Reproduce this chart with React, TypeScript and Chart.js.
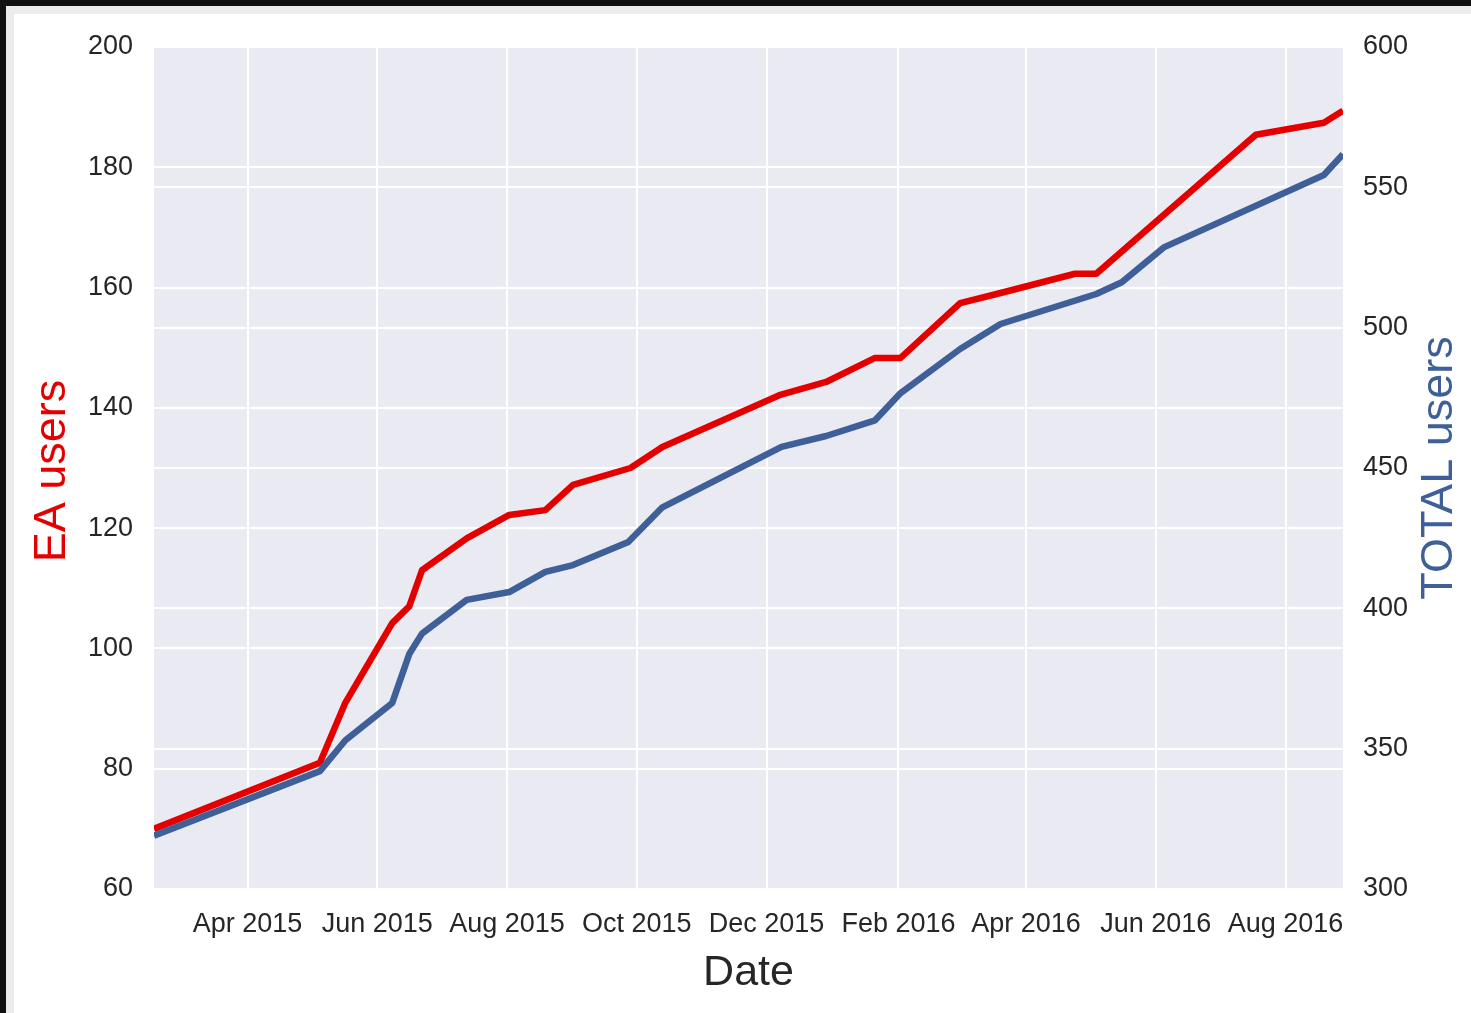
import React, { useEffect, useRef } from "react";
import { Chart, registerables } from "chart.js";

Chart.register(...registerables);

// ---- Data ----
const eaDates = [
  "2015-02-16", "2015-05-05", "2015-05-17", "2015-06-08", "2015-06-16", "2015-06-22",
  "2015-07-13", "2015-08-02", "2015-08-19", "2015-09-01", "2015-09-28", "2015-10-13",
  "2015-12-07", "2015-12-29", "2016-01-21", "2016-02-02", "2016-03-01", "2016-03-20",
  "2016-04-24", "2016-05-04", "2016-07-18", "2016-08-19", "2016-08-28",
];
const eaUsers = [
  70, 81, 91, 104.2, 107, 113,
  118.3, 122.2, 123, 127.2, 130, 133.5,
  142.1, 144.3, 148.3, 148.3, 157.4, 159.1,
  162.3, 162.3, 185.4, 187.4, 189.4,
];

const totalDates = [
  "2015-02-16", "2015-05-05", "2015-05-17", "2015-06-08", "2015-06-16", "2015-06-22",
  "2015-07-13", "2015-08-02", "2015-08-19", "2015-09-01", "2015-09-27", "2015-10-13",
  "2015-12-08", "2015-12-29", "2016-01-21", "2016-02-02", "2016-03-01", "2016-03-20",
  "2016-05-04", "2016-05-16", "2016-06-05", "2016-08-19", "2016-08-28",
];
const totalUsers = [
  319, 342, 353, 366.3, 383.7, 391,
  403, 405.8, 413, 415.4, 423.6, 436,
  457.5, 461.4, 467, 476.7, 492.4, 501.3,
  512, 516.2, 528.7, 554.4, 561.8,
];

const xRange = ["2015-02-16", "2016-08-28"];
const xTickDates = [
  "2015-04-01", "2015-06-01", "2015-08-01", "2015-10-01", "2015-12-01",
  "2016-02-01", "2016-04-01", "2016-06-01", "2016-08-01",
];
const xTickLabels = [
  "Apr 2015", "Jun 2015", "Aug 2015", "Oct 2015", "Dec 2015",
  "Feb 2016", "Apr 2016", "Jun 2016", "Aug 2016",
];
const leftRange = [60, 200];
const leftStep = 20;
const rightRange = [300, 600];
const rightStep = 50;

const EA_COLOR = "#e50000";
const TOTAL_COLOR = "#3e5f98";
const FONT = "'Liberation Sans', Arial, Helvetica, sans-serif";

const dayNum = (s: string) => {
  const [y, m, d] = s.split("-").map(Number);
  return Date.UTC(y, m - 1, d) / 86400000;
};

const titlesPlugin = {
  id: "customTitles",
  beforeDraw(chart: any) {
    const { ctx, chartArea } = chart;
    ctx.save();
    ctx.fillStyle = "#eaeaf2";
    ctx.fillRect(chartArea.left, chartArea.top, chartArea.right - chartArea.left, chartArea.bottom - chartArea.top);
    ctx.restore();
  },
  afterDraw(chart: any) {
    const { ctx, chartArea } = chart;
    ctx.save();
    ctx.textBaseline = "alphabetic";
    ctx.textAlign = "center";
    // Left title
    ctx.save();
    ctx.translate(51, 457);
    ctx.rotate(-Math.PI / 2);
    ctx.fillStyle = EA_COLOR;
    ctx.font = `45px ${FONT}`;
    ctx.fillText("EA users", 0, 0);
    ctx.restore();
    // Right title
    ctx.save();
    ctx.translate(1438, 454);
    ctx.rotate(-Math.PI / 2);
    ctx.fillStyle = TOTAL_COLOR;
    ctx.font = `45px ${FONT}`;
    ctx.fillText("TOTAL users", 0, 0);
    ctx.restore();
    // Bottom title
    ctx.fillStyle = "#262626";
    ctx.font = `43px ${FONT}`;
    ctx.fillText("Date", (chartArea.left + chartArea.right) / 2, 971);
    ctx.restore();
  },
};

const zeroPad = (scale: any) => {
  scale.paddingTop = 0;
  scale.paddingBottom = 0;
  scale.paddingLeft = 0;
  scale.paddingRight = 0;
};

export default function App() {
  const canvasRef = useRef<HTMLCanvasElement | null>(null);

  useEffect(() => {
    if (!canvasRef.current) return;
    const tickFont = { family: FONT, size: 27 };
    const gridCfg = { color: "#ffffff", lineWidth: 2, drawTicks: false };
    const chart = new Chart(canvasRef.current, {
      type: "line",
      data: {
        datasets: [
          {
            label: "TOTAL users",
            data: totalDates.map((d, i) => ({ x: dayNum(d), y: totalUsers[i] })),
            borderColor: TOTAL_COLOR,
            backgroundColor: TOTAL_COLOR,
            borderWidth: 6.5,
            pointRadius: 0,
            tension: 0,
            yAxisID: "y1",
            borderJoinStyle: "round",
            clip: 0,
          },
          {
            label: "EA users",
            data: eaDates.map((d, i) => ({ x: dayNum(d), y: eaUsers[i] })),
            borderColor: EA_COLOR,
            backgroundColor: EA_COLOR,
            borderWidth: 6.5,
            pointRadius: 0,
            tension: 0,
            yAxisID: "y",
            borderJoinStyle: "round",
            clip: 0,
          },
        ],
      },
      options: {
        animation: false,
        responsive: false,
        layout: { padding: { top: 33, left: 0, right: 0, bottom: 0 } },
        plugins: { legend: { display: false }, tooltip: { enabled: false } },
        scales: {
          x: {
            type: "linear",
            position: "bottom",
            min: dayNum(xRange[0]),
            max: dayNum(xRange[1]),
            afterBuildTicks(scale: any) {
              scale.ticks = xTickDates.map((d) => ({ value: dayNum(d) }));
            },
            afterFit(scale: any) {
              scale.height = 124;
              zeroPad(scale);
            },
            ticks: {
              autoSkip: false,
              maxRotation: 0,
              minRotation: 0,
              padding: 19,
              color: "#262626",
              font: tickFont,
              callback: (v: any) => {
                const idx = xTickDates.findIndex((d) => dayNum(d) === v);
                return idx >= 0 ? xTickLabels[idx] : "";
              },
            },
            grid: gridCfg,
            border: { display: false },
          },
          y: {
            type: "linear",
            position: "left",
            min: leftRange[0],
            max: leftRange[1],
            afterFit(scale: any) {
              scale.width = 140;
              zeroPad(scale);
            },
            ticks: { stepSize: leftStep, padding: 21, color: "#262626", font: tickFont },
            grid: gridCfg,
            border: { display: false },
          },
          y1: {
            type: "linear",
            position: "right",
            min: rightRange[0],
            max: rightRange[1],
            afterFit(scale: any) {
              scale.width = 128;
              zeroPad(scale);
            },
            ticks: { stepSize: rightStep, padding: 20, color: "#262626", font: tickFont },
            grid: gridCfg,
            border: { display: false },
          },
        },
      } as any,
      plugins: [titlesPlugin],
    });
    return () => chart.destroy();
  }, []);

  return (
    <div style={{ position: "fixed", left: 0, top: 0, width: 1471, height: 1013, background: "#111111", overflow: "hidden" }}>
      <div style={{ position: "absolute", left: 6, top: 6, right: 0, bottom: 0, background: "#ececec" }}>
        <div style={{ position: "absolute", left: 8, top: 8, right: 0, bottom: 0, background: "#ffffff" }}>
          <canvas ref={canvasRef} width={1457} height={999} style={{ display: "block", width: 1457, height: 999 }} />
        </div>
      </div>
    </div>
  );
}
